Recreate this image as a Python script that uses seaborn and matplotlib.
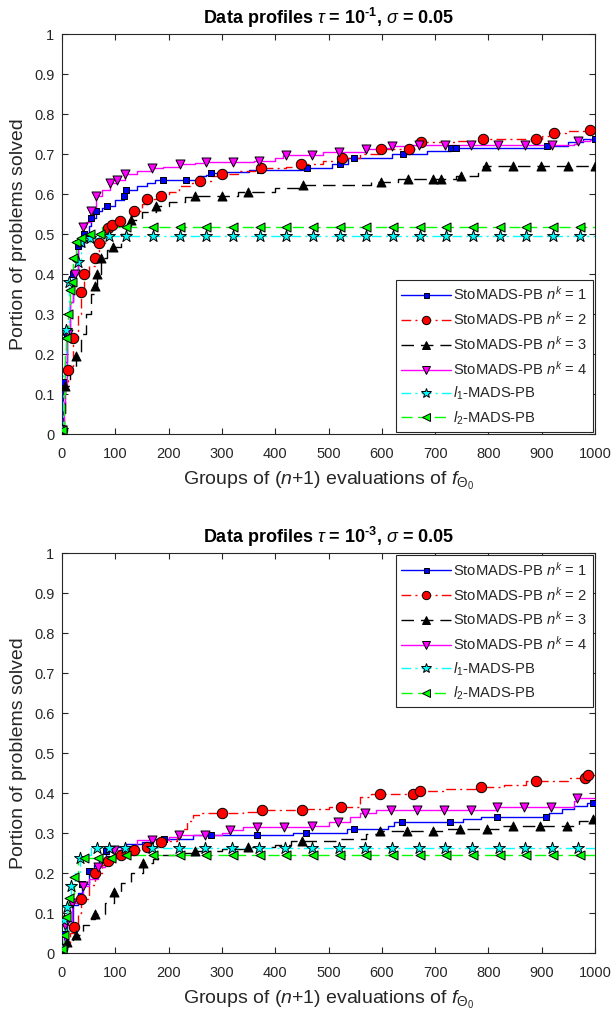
import numpy as np
import pandas as pd
import matplotlib
matplotlib.use("Agg")
import matplotlib.pyplot as plt
import seaborn as sns
from matplotlib.lines import Line2D

# ---------------------------------------------------------------------------
# Data profiles: step breakpoints (x = groups of n+1 evaluations, y = portion
# of problems solved) and the x positions where markers are drawn.
# ---------------------------------------------------------------------------

# tau = 1e-1
t1_nk1_x = [0, 2, 5, 10, 15, 20, 30, 41, 50, 55, 64, 75, 85, 100, 116, 121, 140, 160, 175, 255,
            270, 279, 300, 350, 460, 507, 537, 620, 684, 730, 910, 949, 978, 1000]
t1_nk1_y = [0.01, 0.13, 0.18, 0.25, 0.33, 0.40, 0.47, 0.50, 0.52, 0.54, 0.557, 0.564, 0.571, 0.585,
            0.596, 0.61, 0.62, 0.628, 0.635, 0.645, 0.648, 0.652, 0.656, 0.66, 0.666, 0.674, 0.689,
            0.699, 0.707, 0.714, 0.72, 0.73, 0.738, 0.738]
t1_nk1_m = [0, 2, 10, 20, 30, 41, 55, 64, 85, 116, 121, 190, 232, 279, 371, 460, 521, 548, 640,
            730, 739, 910, 1000]

t1_nk2_x = [0, 2, 5, 11, 21, 30, 35, 41, 50, 61, 69, 80, 86, 93, 109, 125, 136, 150, 160, 186,
            200, 220, 240, 259, 280, 300, 330, 374, 420, 449, 490, 525, 560, 599, 665, 673, 740,
            789, 900, 923, 950, 985, 1000]
t1_nk2_y = [0.01, 0.05, 0.12, 0.16, 0.24, 0.30, 0.355, 0.40, 0.42, 0.44, 0.478, 0.50, 0.516, 0.523,
            0.532, 0.545, 0.557, 0.575, 0.588, 0.596, 0.605, 0.62, 0.628, 0.633, 0.645, 0.651,
            0.657, 0.666, 0.668, 0.674, 0.682, 0.691, 0.70, 0.712, 0.722, 0.73, 0.733, 0.738,
            0.745, 0.753, 0.757, 0.761, 0.761]
t1_nk2_m = [0, 11, 21, 35, 41, 61, 69, 86, 93, 109, 136, 160, 186, 259, 300, 374, 449, 525, 599,
            651, 673, 789, 890, 923, 990]

t1_nk3_x = [0, 3, 5, 15, 26, 35, 45, 55, 61, 66, 74, 85, 96, 110, 129, 150, 176, 200, 230, 250,
            330, 400, 452, 580, 630, 740, 780, 790, 1000]
t1_nk3_y = [0.01, 0.05, 0.12, 0.16, 0.195, 0.25, 0.30, 0.35, 0.37, 0.40, 0.44, 0.46, 0.468, 0.50,
            0.536, 0.555, 0.571, 0.58, 0.592, 0.596, 0.604, 0.615, 0.623, 0.631, 0.637, 0.645,
            0.655, 0.67, 0.67]
t1_nk3_m = [0, 5, 26, 61, 66, 74, 96, 129, 176, 250, 300, 349, 452, 599, 649, 696, 711, 749, 796,
            847, 899, 949, 1000]

t1_nk4_x = [0, 3, 5, 10, 15, 20, 30, 39, 45, 54, 64, 75, 90, 103, 118, 140, 169, 190, 221, 250,
            270, 360, 400, 415, 490, 570, 590, 619, 650, 960, 965, 990, 1000]
t1_nk4_y = [0.01, 0.08, 0.12, 0.25, 0.33, 0.40, 0.48, 0.517, 0.53, 0.557, 0.594, 0.61, 0.628,
            0.635, 0.65, 0.657, 0.664, 0.668, 0.674, 0.678, 0.681, 0.683, 0.69, 0.698, 0.705,
            0.712, 0.716, 0.72, 0.722, 0.726, 0.732, 0.735, 0.735]
t1_nk4_m = [0, 11, 24, 39, 54, 64, 90, 103, 118, 169, 221, 270, 320, 370, 421, 469, 519, 570,
            619, 669, 719, 768, 818, 868, 919, 969]

t1_l1_x = [0, 2, 5, 8, 14, 20, 30, 36, 52, 70, 1000]
t1_l1_y = [0.01, 0.15, 0.20, 0.26, 0.38, 0.40, 0.43, 0.48, 0.49, 0.494, 0.494]
t1_l1_m = [0, 8, 14, 30, 36, 52, 89, 121, 171, 221, 271, 321, 371, 421, 471, 521, 571, 621, 671,
           721, 771, 821, 871, 921, 971]

t1_l2_x = [0, 3, 6, 8, 11, 15, 18, 21, 27, 36, 52, 75, 1000]
t1_l2_y = [0.01, 0.10, 0.20, 0.24, 0.30, 0.36, 0.38, 0.44, 0.48, 0.49, 0.50, 0.517, 0.517]
t1_l2_m = [0, 8, 11, 15, 18, 21, 27, 36, 52, 71, 121, 171, 221, 271, 321, 371, 421, 471, 521,
           571, 621, 671, 721, 771, 821, 871, 921, 971]

# tau = 1e-3
t3_nk1_x = [0, 4, 10, 20, 30, 37, 50, 60, 70, 83, 100, 120, 150, 170, 245, 300, 434, 535, 612,
            622, 753, 787, 913, 938, 960, 985, 1000]
t3_nk1_y = [0.01, 0.048, 0.08, 0.12, 0.15, 0.173, 0.206, 0.22, 0.235, 0.256, 0.265, 0.272, 0.278,
            0.285, 0.294, 0.295, 0.30, 0.311, 0.318, 0.327, 0.335, 0.34, 0.35, 0.36, 0.368,
            0.375, 0.375]
t3_nk1_m = [0, 4, 37, 50, 83, 191, 279, 366, 458, 548, 638, 728, 816, 908, 996]

t3_nk2_x = [0, 5, 15, 22, 30, 36, 50, 61, 75, 86, 100, 111, 136, 159, 186, 200, 215, 225, 235,
            245, 260, 340, 375, 460, 500, 560, 580, 672, 720, 786, 830, 870, 950, 987, 1000]
t3_nk2_y = [0.01, 0.02, 0.05, 0.066, 0.10, 0.136, 0.17, 0.20, 0.22, 0.23, 0.24, 0.246, 0.258,
            0.266, 0.277, 0.28, 0.29, 0.31, 0.33, 0.345, 0.349, 0.352, 0.357, 0.36, 0.365, 0.39,
            0.398, 0.406, 0.41, 0.414, 0.42, 0.429, 0.4375, 0.446, 0.446]
t3_nk2_m = [0, 22, 36, 61, 86, 111, 136, 159, 186, 300, 375, 450, 523, 597, 659, 672, 786, 889,
            981, 987]

t3_nk3_x = [0, 9, 20, 27, 40, 50, 61, 80, 97, 110, 130, 152, 170, 180, 220, 250, 300, 349, 400,
            430, 520, 570, 597, 720, 820, 970, 996, 1000]
t3_nk3_y = [0.01, 0.027, 0.04, 0.046, 0.07, 0.085, 0.097, 0.125, 0.153, 0.175, 0.20, 0.225,
            0.235, 0.245, 0.25, 0.256, 0.26, 0.264, 0.27, 0.279, 0.285, 0.297, 0.304, 0.311,
            0.318, 0.33, 0.335, 0.335]
t3_nk3_m = [0, 9, 27, 61, 97, 152, 250, 349, 450, 597, 647, 696, 747, 797, 846, 897, 947, 996]

t3_nk4_x = [0, 6, 19, 39, 50, 67, 80, 97, 110, 130, 140, 200, 220, 300, 316, 340, 469, 500, 540,
            560, 590, 816, 960, 966, 1000]
t3_nk4_y = [0.01, 0.07, 0.126, 0.167, 0.185, 0.214, 0.23, 0.258, 0.262, 0.268, 0.283, 0.29,
            0.294, 0.30, 0.308, 0.316, 0.317, 0.327, 0.34, 0.35, 0.357, 0.364, 0.38, 0.388, 0.388]
t3_nk4_m = [0, 6, 19, 39, 67, 97, 169, 220, 269, 316, 366, 416, 469, 518, 568, 617, 666, 717,
            767, 816, 867, 917, 966]

t3_l1_x = [0, 4, 9, 16, 25, 34, 45, 55, 1000]
t3_l1_y = [0.01, 0.083, 0.115, 0.167, 0.20, 0.238, 0.245, 0.2625, 0.2625]
t3_l1_m = [0, 4, 9, 16, 34, 66, 88, 119, 169, 219, 269, 319, 369, 419, 469, 519, 569, 619, 669,
           719, 769, 819, 869, 919, 969]

t3_l2_x = [0, 3, 8, 14, 22, 30, 100, 1000]
t3_l2_y = [0.01, 0.044, 0.09, 0.137, 0.19, 0.238, 0.246, 0.246]
t3_l2_m = [0, 3, 8, 14, 22, 41, 67, 91, 121, 171, 221, 271, 321, 371, 421, 471, 521, 571, 621,
           671, 721, 771, 821, 871, 921, 971]

series_keys = ["nk1", "nk2", "nk3", "nk4", "l1", "l2"]
series_labels = [
    r"StoMADS-PB $\mathit{n^k}$ = $\mathit{1}$",
    r"StoMADS-PB $\mathit{n^k}$ = $\mathit{2}$",
    r"StoMADS-PB $\mathit{n^k}$ = $\mathit{3}$",
    r"StoMADS-PB $\mathit{n^k}$ = $\mathit{4}$",
    r"$\mathit{l_1}$-MADS-PB",
    r"$\mathit{l_2}$-MADS-PB",
]
x_ticks = [0, 100, 200, 300, 400, 500, 600, 700, 800, 900, 1000]
x_tick_labels = ["0", "100", "200", "300", "400", "500", "600", "700", "800", "900", "1000"]
y_ticks = [0, 0.1, 0.2, 0.3, 0.4, 0.5, 0.6, 0.7, 0.8, 0.9, 1.0]
y_tick_labels = ["0", "0.1", "0.2", "0.3", "0.4", "0.5", "0.6", "0.7", "0.8", "0.9", "1"]

panels = [
    {
        "title": "Data profiles $\\tau$ = 10$^{\\mathbf{\u2010}\\mathbf{1}}$, $\\sigma$ = 0.05",
        "data": {
            "nk1": (t1_nk1_x, t1_nk1_y, t1_nk1_m),
            "nk2": (t1_nk2_x, t1_nk2_y, t1_nk2_m),
            "nk3": (t1_nk3_x, t1_nk3_y, t1_nk3_m),
            "nk4": (t1_nk4_x, t1_nk4_y, t1_nk4_m),
            "l1": (t1_l1_x, t1_l1_y, t1_l1_m),
            "l2": (t1_l2_x, t1_l2_y, t1_l2_m),
        },
        "legend_loc": "lower right",
    },
    {
        "title": "Data profiles $\\tau$ = 10$^{\\mathbf{\u2010}\\mathbf{3}}$, $\\sigma$ = 0.05",
        "data": {
            "nk1": (t3_nk1_x, t3_nk1_y, t3_nk1_m),
            "nk2": (t3_nk2_x, t3_nk2_y, t3_nk2_m),
            "nk3": (t3_nk3_x, t3_nk3_y, t3_nk3_m),
            "nk4": (t3_nk4_x, t3_nk4_y, t3_nk4_m),
            "l1": (t3_l1_x, t3_l1_y, t3_l1_m),
            "l2": (t3_l2_x, t3_l2_y, t3_l2_m),
        },
        "legend_loc": "upper right",
    },
]

# ---------------------------------------------------------------------------
# Styling
# ---------------------------------------------------------------------------
STYLE = {
    "nk1": dict(color="#0000ff", ls="-", marker="s", ms=4.5),
    "nk2": dict(color="#ff0000", ls=(0, (7, 3, 1.5, 3)), marker="o", ms=7.5),
    "nk3": dict(color="#000000", ls=(0, (9, 5)), marker="^", ms=6.5),
    "nk4": dict(color="#ff00ff", ls="-", marker="v", ms=6.5),
    "l1": dict(color="#00ffff", ls=(0, (7, 3, 1.5, 3)), marker="*", ms=9),
    "l2": dict(color="#00ff00", ls=(0, (8, 4)), marker="<", ms=6.5),
}
AX_COLOR = "#262626"

sns.set_theme(style="ticks")
plt.rcParams.update({
    "font.family": ["Liberation Sans", "DejaVu Sans"],
    "mathtext.fontset": "custom",
    "mathtext.rm": "Liberation Sans",
    "mathtext.it": "Liberation Sans:italic",
    "mathtext.bf": "Liberation Sans:bold",
    "mathtext.sf": "Liberation Sans",
    "axes.edgecolor": AX_COLOR,
    "axes.linewidth": 0.8,
})

W, H = 612, 1022
fig = plt.figure(figsize=(W / 100, H / 100), dpi=100)
axes = [
    fig.add_axes([62 / W, 1 - 434 / H, (595 - 62) / W, 400 / H]),
    fig.add_axes([62 / W, 1 - 953 / H, (595 - 62) / W, 400 / H]),
]


def step_value(xs, ys, xq):
    xs = np.asarray(xs, dtype=float)
    ys = np.asarray(ys, dtype=float)
    idx = np.searchsorted(xs, np.asarray(xq, dtype=float), side="right") - 1
    return ys[np.clip(idx, 0, len(ys) - 1)]


for ax, panel in zip(axes, panels):
    for key in series_keys:
        xs, ys, mx = panel["data"][key]
        st = STYLE[key]
        line_df = pd.DataFrame({"x": xs, "y": ys})
        sns.lineplot(data=line_df, x="x", y="y", ax=ax, estimator=None, sort=False,
                     drawstyle="steps-post", color=st["color"], linestyle=st["ls"],
                     linewidth=1.0, zorder=2)
    for key in series_keys:
        xs, ys, mx = panel["data"][key]
        st = STYLE[key]
        mark_df = pd.DataFrame({"x": mx, "y": step_value(xs, ys, mx)})
        sns.scatterplot(data=mark_df, x="x", y="y", ax=ax, marker=st["marker"],
                        s=st["ms"] ** 2, color=st["color"], edgecolor="black",
                        linewidth=0.7, zorder=3, legend=False)

    ax.set_xlim(0, 1000)
    ax.set_ylim(0, 1)
    ax.set_xticks(x_ticks)
    ax.set_xticklabels(x_tick_labels)
    ax.set_yticks(y_ticks)
    ax.set_yticklabels(y_tick_labels)
    ax.tick_params(axis="both", direction="in", top=True, right=True, length=4,
                   width=0.8, colors=AX_COLOR, labelsize=10.5)
    ax.tick_params(axis="x", pad=9)
    ax.tick_params(axis="y", pad=5.5)
    for sp in ax.spines.values():
        sp.set_visible(True)
        sp.set_color(AX_COLOR)
    ax.set_xlabel(r"Groups of ($\mathit{n}$+$\mathit{1}$) evaluations of $f_{\Theta_0}$",
                  fontsize=14, color=AX_COLOR, labelpad=7)
    ax.set_ylabel("Portion of problems solved", fontsize=14, color=AX_COLOR, labelpad=5)
    ax.set_title(panel["title"], fontsize=13, fontweight="bold", color="black", pad=7)

    handles = [
        Line2D([], [], color=STYLE[k]["color"], linestyle=STYLE[k]["ls"], linewidth=1.0,
               marker=STYLE[k]["marker"], markersize=STYLE[k]["ms"] * 0.8,
               markerfacecolor=STYLE[k]["color"], markeredgecolor="black",
               markeredgewidth=0.7)
        for k in series_keys
    ]
    leg = ax.legend(handles, series_labels, loc=panel["legend_loc"], fontsize=10.6,
                    frameon=True, fancybox=False, framealpha=1, edgecolor=AX_COLOR,
                    handlelength=3.4, handletextpad=0.15, labelspacing=0.48,
                    borderpad=0.35, borderaxespad=0.15, markerscale=1.0)
    leg.get_frame().set_linewidth(0.8)

fig.savefig("out.png", dpi=100, facecolor="white")
